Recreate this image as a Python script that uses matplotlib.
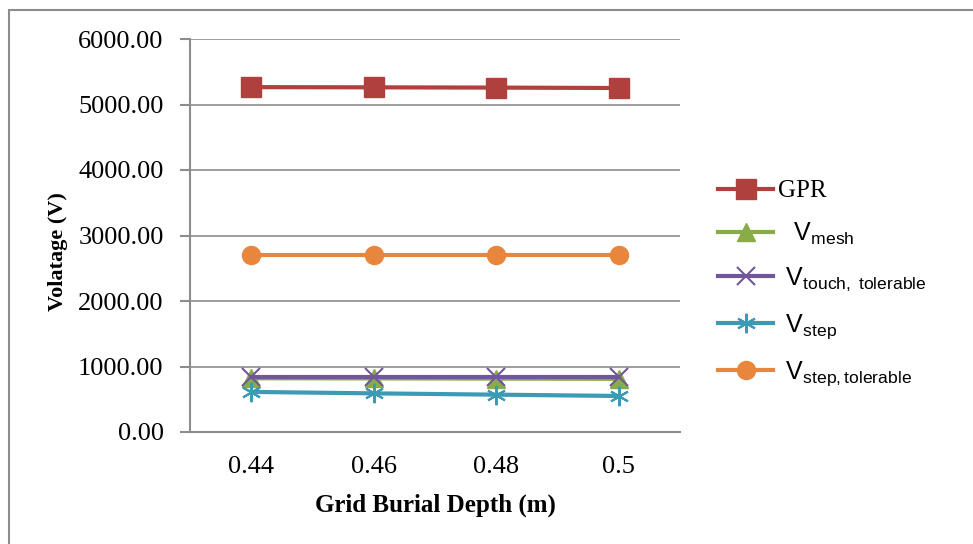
import matplotlib.pyplot as plt
from matplotlib.patches import Rectangle
from matplotlib.ticker import FormatStrFormatter

plt.rcParams['mathtext.fontset'] = 'custom'
plt.rcParams['mathtext.rm'] = 'Liberation Sans'
plt.rcParams['mathtext.it'] = 'Liberation Sans'

# data
depths = ['0.44', '0.46', '0.48', '0.5']
gpr = [5265, 5262, 5258, 5252]
v_mesh = [820, 818, 815, 812]
v_touch_tol = [845, 845, 845, 845]
v_step = [612, 590, 570, 550]
v_step_tol = [2700, 2700, 2700, 2700]

fig = plt.figure(figsize=(9.73, 5.44), dpi=100)
ax = fig.add_axes([190/973, 1 - 432/544, 490/973, 393/544])

x = list(range(len(depths)))
lw = 3
ax.plot(x, gpr, color='#b0403e', lw=lw, marker='s', ms=14.5, label='GPR', zorder=3)
ax.plot(x, v_mesh, color='#8aac47', lw=lw, marker='^', ms=13, label=r'  $\mathrm{V_{mesh}}$', zorder=3)
ax.plot(x, v_touch_tol, color='#71579a', lw=lw, marker='x', ms=13, mew=1.5,
        label=r' $\mathrm{V_{touch,\ tolerable}}$', zorder=4)
ax.plot(x, v_step, color='#3c9ab4', lw=lw, marker=(6, 2, 0), ms=14, mew=1.5,
        label=r' $\mathrm{V_{step}}$', zorder=3)
ax.plot(x, v_step_tol, color='#e8863d', lw=lw, marker='o', ms=13,
        label=r' $\mathrm{V_{step,tolerable}}$', zorder=3)

ax.set_xlim(-0.5, len(depths) - 0.5)
ax.set_ylim(0, 6000)
ax.set_yticks(range(0, 6001, 1000))
ax.yaxis.set_major_formatter(FormatStrFormatter('%.2f'))
ax.set_xticks(x)
ax.set_xticklabels(depths)
ax.tick_params(axis='x', length=0, pad=17, labelsize=19)
ax.tick_params(axis='y', length=7, color='#8c8c8c', width=1.5, labelsize=19, pad=12)
for lab in ax.get_xticklabels() + ax.get_yticklabels():
    lab.set_family('Liberation Serif')

ax.grid(axis='y', color='#8c8c8c', lw=1.2)
ax.set_axisbelow(True)
for s in ['top', 'right']:
    ax.spines[s].set_visible(False)
ax.spines['left'].set_color('#8c8c8c')
ax.spines['bottom'].set_color('#8c8c8c')
ax.spines['left'].set_linewidth(1.5)
ax.spines['bottom'].set_linewidth(1.5)

ax.set_xlabel('Grid Burial Depth (m)', family='Liberation Serif', fontweight='bold', fontsize=18)
ax.set_ylabel('Volatage (V)', family='Liberation Serif', fontweight='bold', fontsize=16)
ax.xaxis.set_label_coords(0.5, -0.157)
ax.yaxis.set_label_coords(-0.249, 0.458)

leg = ax.legend(loc='center left', bbox_to_anchor=(718/973, 1 - 284/544), bbox_transform=fig.transFigure,
                frameon=False, fontsize=18, handlelength=2.2, labelspacing=0.75, handletextpad=0.2,
                borderpad=0, borderaxespad=0)
leg.get_texts()[0].set_family('Liberation Serif')

fig.patches.append(Rectangle((8.5/973, -0.1), 1.2, 1.1 - 9.5/544, transform=fig.transFigure,
                             fill=False, edgecolor='#8c8c8c', lw=1.5))

fig.savefig('out.png', dpi=100)
